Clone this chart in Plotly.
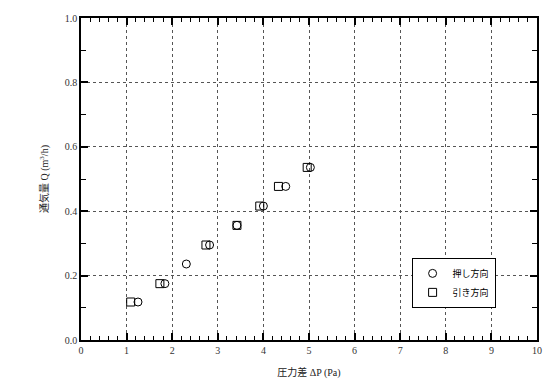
import plotly.graph_objects as go

# Data
push_x = [1.25, 1.84, 2.31, 2.82, 3.42, 4.00, 4.49, 5.03]
push_y = [0.118, 0.175, 0.236, 0.295, 0.356, 0.416, 0.477, 0.536]
pull_x = [1.09, 1.73, 2.74, 3.42, 3.92, 4.33, 4.96]
pull_y = [0.118, 0.175, 0.295, 0.356, 0.416, 0.477, 0.536]

push_name = "押し方向"
pull_name = "引き方向"
x_title = "圧力差 ΔP (Pa)"
y_title = "通気量 Q (m<sup>3</sup>/h)"

FONT = "Liberation Serif, Noto Sans CJK JP, serif"

fig = go.Figure()
fig.add_trace(go.Scatter(x=push_x, y=push_y, mode="markers", name=push_name,
                         marker=dict(symbol="circle-open", size=8, color="black",
                                     line=dict(width=1, color="black"))))
fig.add_trace(go.Scatter(x=pull_x, y=pull_y, mode="markers", name=pull_name,
                         marker=dict(symbol="square-open", size=8, color="black",
                                     line=dict(width=1, color="black"))))

axis_common = dict(
    showline=True, linecolor="black", linewidth=1.5, mirror="allticks",
    ticks="inside", ticklen=7, tickcolor="black", tickwidth=1.5,
    showgrid=True, gridcolor="#555", griddash="dot", gridwidth=1,
    zeroline=False,
    tickfont=dict(family=FONT, size=10, color="#333"),
)

fig.update_xaxes(range=[0, 10], dtick=1, tick0=0, tickformat="d",
                 minor=dict(ticks="inside", dtick=0.2, ticklen=4, tickwidth=1.2,
                            tickcolor="black", showgrid=False),
                 title=dict(text=x_title, font=dict(family=FONT, size=10, color="#222"), standoff=14),
                 **axis_common)
fig.update_yaxes(range=[0, 1.0], dtick=0.2, tick0=0, tickformat=".1f",
                 minor=dict(ticks="inside", dtick=0.1, ticklen=5, tickwidth=1.2,
                            tickcolor="black", showgrid=False),
                 title=dict(text=y_title, font=dict(family=FONT, size=10, color="#222"), standoff=14),
                 **axis_common)

fig.update_layout(
    width=554, height=389,
    margin=dict(l=81, r=16, t=16, b=48),
    plot_bgcolor="white", paper_bgcolor="white",
    showlegend=True,
    legend=dict(x=7.25 / 10, y=0.255, xanchor="left", yanchor="top",
                bgcolor="white", bordercolor="black", borderwidth=1,
                font=dict(family=FONT, size=9, color="black"),
                itemwidth=30, tracegroupgap=0),
)

fig.write_html("out.html")
